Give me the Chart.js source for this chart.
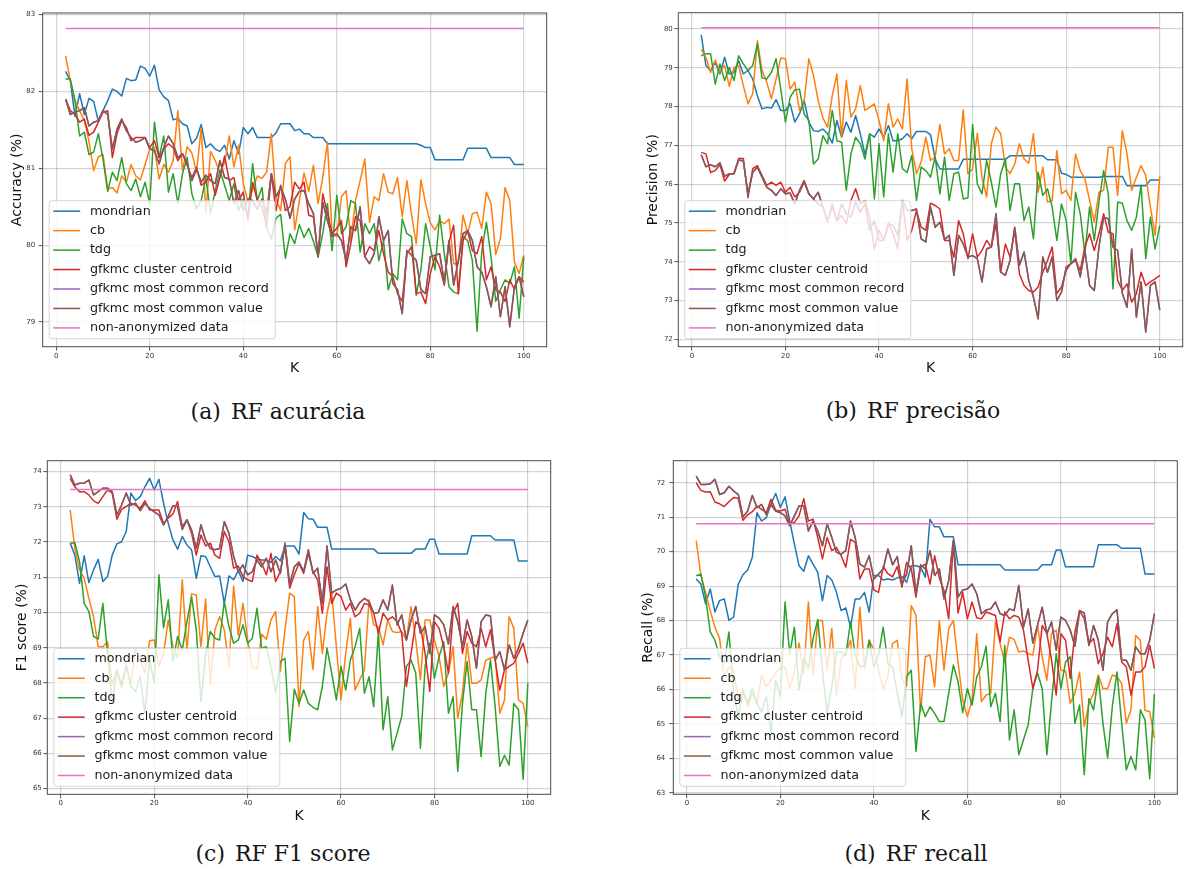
<!DOCTYPE html>
<html lang="pt">
<head>
<meta charset="utf-8">
<title>Random Forest: acurácia, precisão, F1 score e recall em função de K</title>
<script src="https://cdn.jsdelivr.net/npm/chart.js@4.4.1/dist/chart.umd.min.js"></script>
<style>
  html, body { margin: 0; padding: 0; background: #fff; }
  body { position: relative; width: 1184px; height: 872px; overflow: hidden; }
  .panel { position: absolute; }
  .panel canvas { display: block; }
  .caption {
    position: absolute; transform: translateX(-50%);
    font-family: "DejaVu Serif", serif; font-size: 22px; line-height: 22px;
    color: #161616; white-space: nowrap;
  }
  .caption .tag { margin-right: 10px; }
</style>
</head>
<body>
<div class="panel" style="left:0;top:0"><canvas id="accChart" width="560" height="380"></canvas></div>
<div class="panel" style="left:640px;top:0"><canvas id="precChart" width="544" height="380"></canvas></div>
<div class="panel" style="left:0;top:440px"><canvas id="f1Chart" width="560" height="390"></canvas></div>
<div class="panel" style="left:600px;top:440px"><canvas id="recChart" width="584" height="390"></canvas></div>

<div class="caption" style="left:278px;top:401px"><span class="tag">(a)</span>RF acurácia</div>
<div class="caption" style="left:913px;top:400px"><span class="tag">(b)</span>RF precisão</div>
<div class="caption" style="left:283px;top:843px"><span class="tag">(c)</span>RF F1 score</div>
<div class="caption" style="left:916px;top:843px"><span class="tag">(d)</span>RF recall</div>

<script>
// ---- K values (anonymisation parameter) ----
const K = [2, 3, 4, 5, 6, 7, 8, 9, 10, 11,
  12, 13, 14, 15, 16, 17, 18, 19, 20, 21,
  22, 23, 24, 25, 26, 27, 28, 29, 30, 31,
  32, 33, 34, 35, 36, 37, 38, 39, 40, 41,
  42, 43, 44, 45, 46, 47, 48, 49, 50, 51,
  52, 53, 54, 55, 56, 57, 58, 59, 60, 61,
  62, 63, 64, 65, 66, 67, 68, 69, 70, 71,
  72, 73, 74, 75, 76, 77, 78, 79, 80, 81,
  82, 83, 84, 85, 86, 87, 88, 89, 90, 91,
  92, 93, 94, 95, 96, 97, 98, 99, 100];

const kTicks = [0, 20, 40, 60, 80, 100];
const accTicks = [79, 80, 81, 82, 83];
const precTicks = [72, 73, 74, 75, 76, 77, 78, 79, 80];
const f1Ticks = [65, 66, 67, 68, 69, 70, 71, 72, 73, 74];
const recTicks = [63, 64, 65, 66, 67, 68, 69, 70, 71, 72];

const seriesNames = ['mondrian', 'cb', 'tdg', 'gfkmc cluster centroid',
  'gfkmc most common record', 'gfkmc most common value', 'non-anonymized data'];

// ---- Accuracy (%) ----
const accMondrian = [82.26, 82.14, 81.68, 81.97, 81.70, 81.91, 81.87, 81.61, 81.75, 81.88,
  82.03, 82.00, 81.94, 82.17, 82.14, 82.15, 82.33, 82.30, 82.20, 82.34,
  82.02, 81.93, 81.88, 81.63, 81.65, 81.58, 81.55, 81.32, 81.39, 81.57,
  81.27, 81.32, 81.25, 81.22, 81.30, 81.12, 81.36, 81.19, 81.53, 81.45,
  81.53, 81.40, 81.40, 81.40, 81.40, 81.46, 81.58, 81.58, 81.58, 81.49,
  81.51, 81.45, 81.45, 81.40, 81.40, 81.40, 81.32, 81.32, 81.32, 81.32,
  81.32, 81.32, 81.32, 81.32, 81.32, 81.32, 81.32, 81.32, 81.32, 81.32,
  81.32, 81.32, 81.32, 81.32, 81.32, 81.32, 81.30, 81.27, 81.27, 81.11,
  81.11, 81.11, 81.11, 81.11, 81.11, 81.11, 81.26, 81.26, 81.26, 81.26,
  81.26, 81.14, 81.14, 81.14, 81.14, 81.14, 81.05, 81.05, 81.05];
const accCb = [82.46, 82.14, 81.88, 81.75, 81.62, 81.35, 80.97, 81.15, 81.18, 80.73,
  80.75, 80.68, 80.90, 80.82, 81.05, 80.90, 80.85, 81.05, 81.25, 81.27,
  80.86, 81.05, 80.95, 81.10, 81.75, 80.97, 81.28, 81.20, 80.95, 81.52,
  80.42, 81.22, 81.10, 80.95, 81.07, 81.42, 81.02, 81.30, 80.80, 80.57,
  80.72, 80.90, 80.87, 80.95, 81.45, 80.60, 80.45, 81.06, 81.15, 80.20,
  80.58, 80.94, 80.70, 81.04, 80.54, 80.88, 81.34, 80.15, 80.11, 80.63,
  80.71, 80.06, 80.58, 80.84, 81.12, 80.30, 80.63, 80.58, 80.93, 80.69,
  80.67, 80.88, 80.37, 80.84, 80.39, 80.02, 80.85, 80.54, 80.29, 80.20,
  80.32, 80.28, 80.34, 79.76, 79.76, 80.39, 80.15, 80.41, 80.43, 80.22,
  80.69, 80.54, 79.88, 80.09, 80.75, 80.58, 79.78, 79.63, 79.87];
const accTdg = [82.16, 82.16, 81.88, 81.42, 81.47, 81.18, 81.21, 81.45, 81.12, 80.70,
  80.95, 80.84, 81.14, 80.80, 80.71, 80.86, 80.63, 80.82, 80.54, 81.60,
  81.14, 81.42, 80.69, 80.93, 80.54, 80.93, 81.14, 80.67, 80.47, 80.58,
  80.88, 80.41, 80.71, 80.97, 80.78, 80.58, 80.80, 80.45, 80.60, 80.37,
  81.06, 80.58, 80.75, 80.22, 80.08, 80.35, 80.40, 79.83, 80.15, 80.02,
  80.27, 80.10, 80.22, 80.05, 79.85, 80.15, 80.54, 79.93, 80.65, 80.15,
  80.24, 80.58, 80.54, 79.91, 80.28, 80.15, 80.28, 79.80, 80.06, 79.42,
  79.63, 79.55, 80.34, 80.15, 80.11, 79.35, 79.68, 80.28, 79.98, 79.68,
  80.39, 79.89, 79.46, 79.39, 79.37, 80.11, 80.06, 79.80, 78.88, 79.91,
  80.30, 79.85, 79.27, 79.42, 79.55, 79.50, 79.72, 79.05, 79.85];
const accCentroid = [81.90, 81.75, 81.70, 81.60, 81.64, 81.43, 81.47, 81.60, 81.73, 81.75,
  81.14, 81.45, 81.62, 81.53, 81.36, 81.40, 81.40, 81.40, 81.27, 81.36,
  81.14, 81.25, 81.32, 81.27, 81.10, 81.19, 81.04, 80.88, 81.01, 80.78,
  80.82, 80.93, 80.65, 80.88, 81.16, 80.84, 80.88, 80.58, 80.69, 80.32,
  80.82, 80.58, 80.50, 80.24, 80.93, 80.45, 80.78, 80.45, 80.50, 80.82,
  80.73, 80.82, 80.39, 80.37, 79.85, 80.67, 80.41, 80.15, 80.22, 80.32,
  79.72, 80.02, 80.37, 80.32, 79.85, 79.98, 79.93, 80.19, 79.89, 79.65,
  79.59, 79.37, 79.27, 79.89, 79.98, 79.37, 79.39, 79.24, 79.63, 79.85,
  79.72, 79.48, 80.04, 80.26, 79.37, 80.06, 80.19, 79.93, 79.89, 80.11,
  79.55, 79.72, 79.42, 79.39, 79.27, 79.55, 79.42, 79.59, 79.52];
const accValue = [81.90, 81.70, 81.73, 81.75, 81.79, 81.55, 81.60, 81.62, 81.75, 81.70,
  81.25, 81.51, 81.64, 81.49, 81.40, 81.34, 81.36, 81.40, 81.25, 81.23,
  81.06, 81.27, 81.42, 81.32, 81.14, 81.19, 81.06, 80.84, 80.99, 80.82,
  80.91, 80.84, 80.80, 81.10, 80.88, 80.86, 80.54, 80.71, 80.45, 80.60,
  80.58, 80.47, 80.60, 80.41, 80.93, 80.63, 80.75, 80.60, 80.35, 80.60,
  80.70, 80.71, 80.54, 80.41, 79.85, 80.56, 80.32, 80.11, 80.15, 80.06,
  79.80, 80.24, 80.19, 80.50, 79.85, 79.76, 79.89, 80.37, 80.06, 80.19,
  79.50, 79.42, 79.11, 79.93, 79.87, 79.80, 79.42, 79.37, 79.85, 79.87,
  79.89, 79.52, 80.06, 79.48, 79.80, 80.15, 80.19, 80.06, 79.72, 79.65,
  79.46, 79.20, 79.59, 79.07, 79.46, 78.94, 79.46, 79.59, 79.33];
// most-common-record and most-common-value generalisation score identically
const accRecord = accValue;
const accBaseline = 82.82;

// ---- Precision (%) ----
const precMondrian = [79.85, 79.06, 78.93, 79.14, 78.84, 79.27, 78.84, 78.88, 79.18, 78.84,
  78.93, 78.71, 78.28, 77.94, 77.98, 77.96, 78.18, 77.90, 77.90, 78.07,
  77.60, 77.81, 78.15, 77.60, 77.38, 77.36, 77.42, 77.30, 77.06, 77.64,
  77.21, 77.60, 77.34, 77.77, 77.30, 76.76, 77.30, 77.21, 77.42, 77.21,
  77.51, 77.12, 77.12, 77.17, 77.30, 77.17, 77.36, 77.36, 77.36, 77.28,
  76.65, 76.39, 76.39, 76.39, 76.39, 76.39, 76.64, 76.64, 76.64, 76.64,
  76.64, 76.64, 76.64, 76.64, 76.64, 76.64, 76.73, 76.73, 76.73, 76.73,
  76.73, 76.73, 76.73, 76.73, 76.63, 76.63, 76.63, 76.28, 76.25, 76.18,
  76.18, 76.18, 76.18, 76.18, 76.18, 76.18, 76.20, 76.20, 76.20, 76.20,
  76.20, 75.96, 75.96, 75.96, 75.96, 75.96, 76.11, 76.11, 76.11];
const precCb = [79.48, 79.27, 78.88, 79.20, 78.88, 79.06, 78.52, 79.01, 79.06, 78.54,
  78.07, 78.33, 79.70, 78.93, 78.63, 78.20, 78.71, 79.25, 79.23, 78.45,
  78.63, 77.90, 78.15, 79.23, 78.80, 78.15, 77.71, 77.47, 78.28, 78.84,
  77.21, 78.67, 77.73, 77.94, 78.54, 77.90, 77.98, 78.07, 77.64, 77.12,
  78.07, 77.47, 77.68, 77.42, 78.71, 76.91, 76.27, 76.57, 77.21, 76.61,
  76.70, 77.54, 76.78, 76.91, 76.61, 76.61, 77.91, 76.27, 76.39, 77.31,
  76.18, 75.67, 77.04, 77.47, 77.30, 76.44, 76.27, 76.52, 77.04, 76.65,
  76.54, 77.30, 75.79, 76.44, 75.54, 75.58, 76.87, 75.75, 75.84, 75.58,
  76.78, 76.35, 76.14, 75.58, 75.02, 75.79, 75.84, 76.95, 76.95, 75.71,
  77.38, 76.78, 75.84, 76.18, 76.48, 76.22, 75.41, 74.68, 76.20];
const precTdg = [79.31, 79.36, 79.36, 78.58, 79.10, 78.67, 79.01, 78.67, 79.31, 79.10,
  78.93, 79.06, 79.61, 78.74, 78.71, 78.88, 79.23, 78.45, 77.60, 78.24,
  78.43, 78.45, 77.81, 77.64, 76.52, 76.65, 77.25, 77.04, 77.90, 77.12,
  77.08, 75.84, 76.78, 77.21, 77.04, 76.65, 77.30, 75.62, 77.04, 75.67,
  77.30, 76.31, 77.30, 76.40, 76.30, 76.74, 75.58, 76.44, 76.35, 76.18,
  76.70, 75.75, 76.70, 75.58, 76.27, 76.31, 75.62, 75.65, 77.54, 76.01,
  75.75, 76.61, 76.05, 75.41, 76.27, 76.65, 75.32, 76.01, 76.01, 75.06,
  75.41, 74.59, 76.31, 75.71, 75.88, 75.41, 74.55, 75.49, 75.06, 73.95,
  75.79, 75.24, 74.21, 75.41, 74.55, 75.54, 76.35, 75.75, 73.30, 75.54,
  75.51, 75.06, 74.81, 75.15, 75.97, 74.08, 75.15, 74.33, 74.94];
const precCentroid = [76.82, 76.78, 76.30, 76.35, 76.50, 76.08, 76.25, 76.28, 76.66, 76.66,
  75.65, 76.40, 76.48, 76.22, 75.97, 76.05, 75.97, 76.05, 75.79, 75.92,
  75.67, 75.79, 76.05, 75.75, 75.62, 75.49, 75.41, 75.02, 75.49, 75.06,
  75.19, 74.98, 75.58, 75.88, 75.49, 75.58, 75.15, 74.33, 74.81, 74.55,
  75.02, 74.72, 74.33, 75.58, 74.55, 74.81, 75.32, 74.89, 74.81, 75.51,
  75.45, 75.36, 74.55, 74.55, 74.12, 75.06, 74.72, 74.08, 74.72, 74.12,
  74.29, 74.55, 74.38, 74.98, 73.73, 74.46, 74.12, 74.81, 73.69, 73.39,
  73.26, 73.22, 73.35, 73.73, 74.03, 74.38, 73.18, 73.35, 73.78, 73.95,
  74.03, 73.78, 74.38, 74.72, 74.29, 74.72, 75.24, 74.76, 74.72, 73.52,
  73.26, 73.43, 72.96, 73.18, 73.73, 73.39, 73.48, 73.56, 73.65];
const precValue = [76.76, 76.45, 76.50, 76.45, 76.55, 76.20, 76.27, 76.27, 76.62, 76.60,
  75.75, 76.30, 76.44, 76.18, 75.92, 75.84, 75.71, 75.88, 75.75, 75.77,
  75.49, 75.84, 76.09, 75.75, 75.62, 75.79, 75.41, 75.06, 75.41, 75.06,
  75.49, 75.24, 75.15, 75.54, 75.28, 75.49, 74.81, 75.06, 74.55, 74.55,
  74.94, 74.94, 74.68, 75.58, 75.32, 75.32, 75.36, 74.59, 74.51, 75.41,
  74.89, 75.02, 74.57, 74.68, 73.65, 74.68, 74.46, 74.12, 74.16, 74.08,
  73.48, 74.33, 74.38, 75.24, 73.73, 73.65, 74.03, 74.89, 73.91, 74.25,
  73.52, 73.09, 72.53, 74.12, 73.73, 74.12, 73.00, 73.22, 73.86, 73.95,
  74.08, 73.61, 74.29, 73.39, 73.26, 74.38, 75.15, 75.11, 74.38, 74.29,
  73.18, 72.83, 74.33, 72.57, 73.48, 72.19, 73.39, 73.48, 72.75];
const precRecord = precValue;
const precBaseline = 80.03;

// ---- F1 score (%) ----
const f1Mondrian = [71.97, 71.63, 70.83, 71.61, 70.85, 71.21, 71.51, 70.88, 71.02, 71.63,
  71.95, 72.01, 72.30, 73.39, 73.18, 73.29, 73.57, 73.81, 73.48, 73.78,
  73.10, 72.53, 72.06, 71.80, 72.16, 71.92, 71.78, 70.97, 71.61, 71.59,
  71.30, 71.02, 71.04, 70.26, 71.04, 70.93, 71.19, 70.88, 71.63, 71.59,
  71.52, 71.49, 71.49, 71.42, 71.59, 71.47, 71.89, 71.89, 71.89, 71.66,
  72.84, 72.66, 72.65, 72.42, 72.42, 72.42, 71.80, 71.80, 71.80, 71.80,
  71.80, 71.80, 71.80, 71.80, 71.80, 71.80, 71.68, 71.68, 71.68, 71.68,
  71.68, 71.68, 71.68, 71.68, 71.80, 71.80, 71.80, 72.08, 72.08, 71.66,
  71.66, 71.66, 71.66, 71.66, 71.66, 71.66, 72.18, 72.18, 72.18, 72.18,
  72.18, 72.06, 72.06, 72.06, 72.06, 72.06, 71.46, 71.46, 71.46];
const f1Cb = [72.91, 71.82, 71.21, 70.97, 70.40, 69.88, 69.03, 69.03, 69.17, 67.95,
  68.37, 67.85, 68.47, 67.99, 68.96, 68.65, 68.28, 69.20, 69.22, 68.48,
  68.84, 69.79, 69.03, 68.70, 70.93, 68.94, 70.53, 70.50, 69.03, 70.38,
  67.95, 69.51, 69.88, 69.51, 68.47, 70.75, 69.36, 70.26, 69.22, 68.44,
  68.39, 69.38, 69.24, 69.79, 70.03, 68.32, 69.51, 70.55, 70.45, 67.33,
  69.22, 69.46, 68.39, 70.17, 68.84, 69.98, 70.59, 69.03, 67.52, 68.84,
  69.84, 67.80, 68.09, 68.37, 70.36, 69.65, 69.60, 69.08, 69.79, 69.46,
  69.43, 69.46, 69.22, 70.17, 69.22, 68.09, 69.79, 69.79, 69.22, 68.75,
  67.90, 68.28, 69.03, 67.00, 67.71, 69.13, 67.99, 67.99, 68.09, 68.65,
  68.70, 68.75, 67.14, 67.52, 69.88, 69.55, 67.52, 67.42, 66.76];
const f1Tdg = [71.97, 71.98, 71.45, 70.26, 70.03, 69.32, 69.25, 70.26, 68.84, 67.42,
  68.37, 67.95, 68.51, 67.90, 67.76, 68.18, 67.14, 68.65, 68.01, 71.07,
  69.57, 70.36, 68.61, 69.32, 68.94, 69.74, 70.45, 69.51, 67.47, 68.80,
  69.46, 69.27, 69.22, 70.31, 69.60, 69.13, 69.22, 69.65, 69.13, 69.27,
  70.12, 68.99, 69.03, 68.47, 67.71, 68.61, 68.70, 66.34, 67.82, 67.42,
  67.80, 67.42, 67.31, 67.24, 67.90, 68.99, 68.28, 67.52, 68.47, 67.80,
  68.65, 69.03, 69.55, 67.71, 68.18, 67.33, 69.46, 66.67, 67.61, 66.10,
  66.57, 67.05, 68.47, 68.65, 68.28, 66.15, 68.47, 69.13, 68.13, 68.75,
  69.17, 67.14, 67.61, 65.49, 67.42, 68.61, 67.24, 67.24, 65.91, 67.71,
  68.65, 67.33, 65.63, 65.95, 65.67, 67.42, 67.24, 65.27, 67.99];
const f1Centroid = [73.81, 73.57, 73.43, 73.43, 73.34, 73.17, 73.10, 73.29, 73.48, 73.39,
  72.65, 72.93, 73.01, 73.10, 73.05, 72.96, 73.17, 72.91, 72.91, 72.91,
  72.53, 72.68, 72.80, 73.15, 72.44, 72.63, 72.25, 71.63, 72.20, 71.89,
  71.97, 71.63, 71.54, 72.30, 72.01, 71.26, 71.32, 71.02, 70.93, 70.88,
  71.63, 71.40, 71.07, 71.68, 70.88, 71.16, 71.87, 70.69, 71.07, 71.40,
  71.11, 71.68, 71.16, 70.93, 69.98, 71.30, 70.26, 70.55, 70.45, 70.07,
  70.26, 69.88, 69.98, 70.26, 70.22, 69.98, 69.41, 69.98, 69.79, 69.88,
  69.74, 69.41, 67.90, 68.84, 69.74, 69.60, 68.84, 67.76, 69.74, 69.55,
  69.03, 68.28, 69.98, 70.26, 68.84, 69.46, 69.13, 69.03, 69.55, 69.03,
  69.51, 68.65, 67.80, 68.37, 68.47, 68.56, 68.84, 69.13, 68.56];
const f1Value = [73.91, 73.62, 73.67, 73.67, 73.76, 73.34, 73.43, 73.53, 73.53, 73.43,
  72.77, 73.05, 73.39, 73.05, 73.10, 72.89, 73.10, 72.96, 72.86, 72.77,
  72.49, 72.74, 73.03, 73.01, 72.36, 72.63, 72.34, 71.82, 72.49, 72.06,
  71.82, 71.78, 71.82, 72.58, 72.25, 71.59, 71.16, 71.35, 71.07, 71.16,
  71.49, 71.30, 71.54, 71.16, 71.49, 71.11, 71.97, 70.80, 71.30, 71.43,
  71.16, 71.78, 71.11, 71.26, 70.26, 71.89, 70.55, 70.64, 70.69, 70.81,
  70.36, 70.07, 70.28, 70.40, 70.31, 69.98, 70.00, 70.36, 70.07, 70.78,
  69.65, 69.93, 69.22, 69.79, 70.17, 69.41, 69.60, 68.84, 69.93, 69.84,
  69.65, 69.11, 70.17, 69.74, 69.03, 69.79, 69.32, 68.42, 69.74, 69.93,
  69.90, 68.65, 68.89, 68.37, 69.08, 68.70, 68.99, 69.41, 69.79];
const f1Record = f1Value;
const f1Baseline = 73.49;

// ---- Recall (%) ----
const recMondrian = [69.21, 69.06, 68.49, 68.92, 68.25, 68.58, 68.63, 68.01, 68.10, 69.06,
  69.33, 69.47, 69.83, 71.13, 70.89, 70.99, 71.39, 71.69, 71.28, 71.59,
  70.89, 70.22, 69.59, 69.43, 69.88, 69.64, 69.40, 68.58, 69.31, 69.18,
  68.82, 68.29, 68.37, 67.81, 68.63, 68.63, 68.82, 68.25, 69.31, 69.31,
  69.18, 69.21, 69.18, 69.24, 69.28, 69.11, 69.59, 69.59, 69.55, 69.26,
  70.94, 70.72, 70.72, 70.43, 70.43, 70.43, 69.62, 69.62, 69.62, 69.62,
  69.62, 69.62, 69.62, 69.62, 69.62, 69.62, 69.47, 69.47, 69.47, 69.47,
  69.47, 69.47, 69.47, 69.47, 69.62, 69.62, 69.62, 70.05, 70.05, 69.56,
  69.56, 69.56, 69.56, 69.56, 69.56, 69.56, 70.20, 70.20, 70.20, 70.20,
  70.20, 70.10, 70.10, 70.10, 70.10, 70.10, 69.35, 69.35, 69.35];
const recCb = [70.32, 69.31, 68.82, 68.29, 67.81, 67.48, 66.37, 66.66, 66.56, 65.70,
  66.03, 65.50, 65.89, 65.60, 66.42, 66.08, 66.27, 66.47, 66.63, 66.66,
  66.03, 66.51, 67.35, 66.47, 68.54, 66.42, 68.00, 68.00, 66.56, 67.77,
  65.84, 66.90, 67.04, 67.43, 66.03, 68.39, 66.61, 67.43, 67.16, 66.56,
  66.00, 66.40, 67.33, 67.43, 66.32, 66.10, 68.44, 68.15, 65.36, 66.95,
  67.00, 66.08, 68.00, 66.56, 67.77, 68.00, 66.80, 65.70, 65.21, 65.70,
  67.62, 65.65, 65.84, 65.89, 67.96, 67.33, 66.80, 67.52, 67.45, 67.09,
  67.12, 67.04, 67.00, 67.86, 66.95, 66.27, 67.62, 67.72, 66.56, 66.54,
  65.60, 65.89, 66.51, 64.93, 65.60, 65.89, 66.42, 66.03, 66.03, 66.42,
  66.37, 66.18, 65.02, 65.41, 67.57, 67.43, 65.39, 65.36, 64.59];
const recTdg = [69.30, 69.35, 68.68, 67.67, 67.43, 66.95, 66.77, 67.67, 65.94, 65.21,
  65.94, 65.60, 66.03, 65.60, 65.36, 65.79, 64.73, 66.27, 65.79, 68.54,
  67.04, 67.81, 65.98, 66.90, 66.61, 67.48, 68.03, 66.56, 65.31, 66.08,
  67.09, 67.09, 67.00, 67.96, 67.00, 66.66, 66.68, 67.43, 66.66, 67.00,
  67.81, 66.75, 66.66, 65.90, 65.21, 66.37, 66.56, 64.20, 65.60, 65.21,
  65.50, 65.31, 65.07, 65.07, 65.89, 66.71, 66.23, 65.33, 66.03, 65.55,
  66.37, 66.66, 67.26, 65.50, 65.89, 65.07, 67.28, 64.54, 65.41, 64.11,
  64.54, 64.97, 66.03, 66.47, 66.03, 64.11, 65.65, 67.04, 66.03, 66.80,
  66.95, 65.02, 65.55, 63.53, 65.74, 65.41, 66.37, 65.02, 64.01, 65.50,
  66.51, 65.02, 63.67, 64.06, 63.67, 65.41, 65.12, 63.41, 65.87];
const recCentroid = [72.00, 71.78, 71.73, 71.74, 71.44, 71.39, 71.31, 71.45, 71.57, 71.55,
  70.91, 71.07, 71.16, 71.32, 71.23, 71.13, 71.52, 71.20, 71.18, 71.23,
  70.80, 70.85, 71.04, 71.54, 70.89, 70.94, 70.41, 69.79, 70.41, 70.03,
  70.12, 69.88, 69.55, 70.36, 70.27, 69.21, 69.50, 69.50, 68.89, 68.82,
  69.57, 69.36, 69.27, 69.57, 68.97, 69.69, 69.50, 68.68, 69.55, 69.64,
  69.06, 69.88, 69.24, 68.87, 68.05, 70.27, 68.22, 68.82, 68.05, 68.54,
  68.08, 68.05, 68.25, 68.20, 68.15, 67.38, 68.25, 68.05, 68.15, 68.10,
  67.72, 66.85, 66.03, 66.56, 67.86, 67.62, 66.85, 65.84, 67.62, 67.43,
  66.32, 67.67, 68.29, 68.05, 67.33, 67.48, 66.75, 67.04, 67.52, 67.24,
  67.91, 66.80, 66.66, 65.84, 66.51, 66.51, 66.66, 67.28, 66.61];
const recValue = [72.19, 71.95, 71.95, 71.97, 72.10, 71.66, 71.71, 71.90, 71.76, 71.66,
  71.01, 71.18, 71.63, 71.28, 71.37, 71.07, 71.37, 71.18, 71.13, 71.04,
  70.75, 71.04, 71.33, 71.33, 70.60, 70.89, 70.60, 70.17, 70.80, 70.41,
  69.98, 69.93, 70.03, 70.89, 70.41, 69.64, 69.55, 69.88, 69.21, 69.35,
  69.50, 70.08, 69.62, 69.86, 69.06, 69.35, 70.17, 68.78, 69.62, 69.50,
  70.03, 69.31, 69.50, 68.63, 69.16, 70.33, 68.68, 68.89, 68.92, 69.06,
  68.78, 68.20, 68.31, 68.34, 68.54, 68.20, 68.15, 68.34, 68.29, 69.02,
  67.81, 68.34, 67.35, 67.86, 68.39, 67.62, 67.96, 67.14, 68.10, 68.01,
  67.72, 67.26, 68.29, 68.22, 67.28, 67.86, 67.43, 66.56, 67.96, 68.20,
  68.31, 66.85, 66.85, 66.56, 67.24, 67.04, 67.04, 67.43, 68.20];
const recRecord = recValue;
const recBaseline = 70.81;

// ---- styling ----
const COLORS = ['#1f77b4', '#ff7f0e', '#2ca02c', '#d62728', '#9467bd', '#8c564b', '#e377c2'];
const SANS = '"DejaVu Sans", sans-serif';
const GRID = 'rgba(0, 0, 0, 0.17)';
const TICK = '#555';
const TICK_LABEL = '#333';
const SPINE = '#4a4a4a';
const K_MIN = -2.9, K_MAX = 104.9;

// axes frame and in-plot key (matplotlib-like, lower left, translucent)
const frameAndKey = {
  id: 'frameAndKey',
  afterDatasetsDraw(chart) {
    const { ctx, chartArea: a } = chart;
    ctx.save();
    ctx.strokeStyle = SPINE;
    ctx.lineWidth = 1;
    ctx.strokeRect(a.left, a.top, a.right - a.left, a.bottom - a.top);

    const w = 226, h = 138;
    const x0 = a.left + 6.5, y0 = a.bottom - 8 - h;
    ctx.beginPath();
    if (ctx.roundRect) ctx.roundRect(x0, y0, w, h, 3); else ctx.rect(x0, y0, w, h);
    ctx.fillStyle = 'rgba(255, 255, 255, 0.8)';
    ctx.fill();
    ctx.strokeStyle = 'rgba(204, 204, 204, 0.8)';
    ctx.lineWidth = 1;
    ctx.stroke();

    ctx.font = '12.7px ' + SANS;
    ctx.textBaseline = 'middle';
    ctx.textAlign = 'left';
    chart.data.datasets.forEach((ds, i) => {
      const yy = y0 + 10.5 + i * 19.45;
      ctx.strokeStyle = ds.borderColor;
      ctx.lineWidth = 1.5;
      ctx.beginPath();
      ctx.moveTo(x0 + 4, yy);
      ctx.lineTo(x0 + 31, yy);
      ctx.stroke();
      ctx.fillStyle = '#1a1a1a';
      ctx.fillText(ds.label, x0 + 40.7, yy);
    });
    ctx.restore();
  }
};

const panels = [
  { id: 'accChart', yTitle: 'Accuracy (%)', yMin: 78.68, yMax: 83.02, yTicks: accTicks,
    runs: [accMondrian, accCb, accTdg, accCentroid, accRecord, accValue], baseline: accBaseline,
    frame: { left: 42.7, top: 13, right: 13.3, bottom: 33.3 }, yTitlePad: 8.6, xTitlePad: 3.6, yTickPad: 3.5 },
  { id: 'precChart', yTitle: 'Precision (%)', yMin: 71.81, yMax: 80.42, yTicks: precTicks,
    runs: [precMondrian, precCb, precTdg, precCentroid, precRecord, precValue], baseline: precBaseline,
    frame: { left: 38.3, top: 12.7, right: 1.3, bottom: 33.3 }, yTitlePad: 5.4, xTitlePad: 3.3, yTickPad: 1.5 },
  { id: 'f1Chart', yTitle: 'F1 score (%)', yMin: 64.84, yMax: 74.31, yTicks: f1Ticks,
    runs: [f1Mondrian, f1Cb, f1Tdg, f1Centroid, f1Record, f1Value], baseline: f1Baseline,
    frame: { left: 47.3, top: 20.7, right: 9.3, bottom: 35.7 }, yTitlePad: 14.1, xTitlePad: 4.9, yTickPad: 1.5 },
  { id: 'recChart', yTitle: 'Recall (%)', yMin: 62.96, yMax: 72.64, yTicks: recTicks,
    runs: [recMondrian, recCb, recTdg, recCentroid, recRecord, recValue], baseline: recBaseline,
    frame: { left: 73.3, top: 20.7, right: 6.7, bottom: 35.7 }, yTitlePad: 39.9, xTitlePad: 4.9, yTickPad: 4 }
];

function buildChart(p) {
  const n = seriesNames.length;
  const datasets = p.runs.map((ys, i) => ({
    label: seriesNames[i],
    borderColor: COLORS[i],
    backgroundColor: COLORS[i],
    data: K.map((k, j) => ({ x: k, y: ys[j] })),
    order: n - i
  }));
  datasets.push({
    label: seriesNames[n - 1],
    borderColor: COLORS[n - 1],
    backgroundColor: COLORS[n - 1],
    data: [{ x: K[0], y: p.baseline }, { x: K[K.length - 1], y: p.baseline }],
    order: 0
  });

  return new Chart(document.getElementById(p.id), {
    type: 'line',
    data: { datasets },
    plugins: [frameAndKey],
    options: {
      responsive: false,
      animation: false,
      devicePixelRatio: 1,
      events: [],
      layout: { padding: { left: 0, top: p.frame.top, right: p.frame.right, bottom: 0 } },
      plugins: { legend: { display: false }, tooltip: { enabled: false } },
      elements: {
        point: { radius: 0, hoverRadius: 0 },
        line: { borderWidth: 1.5, tension: 0, borderJoinStyle: 'round', fill: false }
      },
      scales: {
        x: {
          type: 'linear', min: K_MIN, max: K_MAX,
          afterBuildTicks: s => { s.ticks = kTicks.map(v => ({ value: v })); },
          afterFit: s => { s.height = p.frame.bottom; },
          grid: { color: GRID, lineWidth: 1.2, tickLength: 4, tickColor: TICK, tickWidth: 1 },
          border: { display: false },
          ticks: { autoSkip: false, maxRotation: 0, padding: 1, color: TICK_LABEL,
                   font: { family: SANS, size: 7 }, callback: v => String(v) },
          title: { display: true, text: 'K', color: '#111', font: { family: SANS, size: 14 },
                   padding: { top: 0, bottom: p.xTitlePad } }
        },
        y: {
          type: 'linear', min: p.yMin, max: p.yMax,
          afterBuildTicks: s => { s.ticks = p.yTicks.map(v => ({ value: v })); },
          afterFit: s => { s.width = p.frame.left; },
          grid: { color: GRID, lineWidth: 1.2, tickLength: 4, tickColor: TICK, tickWidth: 1 },
          border: { display: false },
          ticks: { autoSkip: false, padding: p.yTickPad, color: TICK_LABEL,
                   font: { family: SANS, size: 7 }, callback: v => String(v) },
          title: { display: true, text: p.yTitle, color: '#111', font: { family: SANS, size: 14 },
                   padding: { top: p.yTitlePad, bottom: 0 } }
        }
      }
    }
  });
}

panels.forEach(buildChart);
</script>
</body>
</html>
